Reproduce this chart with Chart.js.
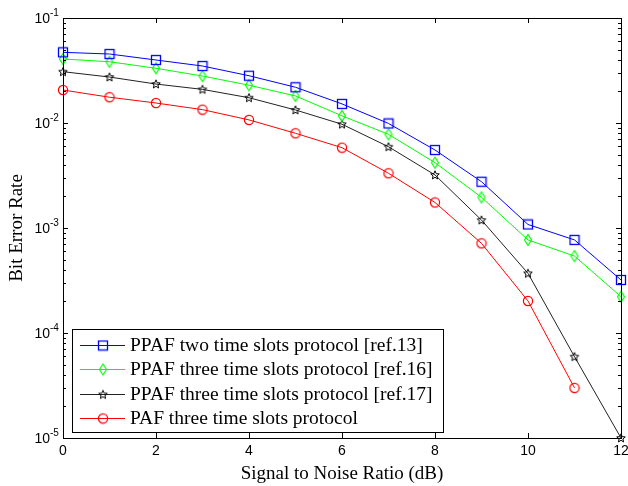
<!DOCTYPE html>
<html><head><meta charset="utf-8">
<script src="https://cdn.jsdelivr.net/npm/chart.js@4.4.1/dist/chart.umd.min.js"></script>
<style>html,body{margin:0;padding:0;background:#fff}#wrap{width:628px;height:486px}</style>
</head><body><div id="wrap"><canvas id="c" width="628" height="486"></canvas></div>
<script>
const snr = [0,1,2,3,4,5,6,7,8,9,10,11,12];
const berPPAF2ref13 = [0.0471,0.0454,0.0398,0.0349,0.0282,0.0219,0.0152,0.0099,0.00553,0.00276,0.00108,0.00077,0.00032];
const berPPAF3ref16 = [0.0407,0.0383,0.0332,0.0280,0.0229,0.0181,0.0117,0.0078,0.00419,0.00196,0.00077,0.00054,0.000222];
const berPPAF3ref17 = [0.0308,0.0274,0.0235,0.0209,0.0174,0.0133,0.00973,0.00594,0.0032,0.00119,0.00037,0.0000595,0.00001];
const berPAF3 = [0.0206,0.0176,0.0155,0.0134,0.0107,0.00798,0.00582,0.00332,0.00175,0.000714,0.000202,0.000030];
const seriesLabels = ['PPAF two time slots protocol [ref.13]','PPAF three time slots protocol [ref.16]','PPAF three time slots protocol [ref.17]','PAF three time slots protocol'];
const xTicks = [0,2,4,6,8,10,12];
const yExponents = [-1,-2,-3,-4,-5];
const xTitle = 'Signal to Noise Ratio (dB)';
const yTitle = 'Bit Error Rate';

function mk(w,h,draw){const c=document.createElement('canvas');c.width=w;c.height=h;const g=c.getContext('2d');draw(g);return c;}
const sq = mk(12,12,g=>{g.strokeStyle='#0000ff';g.lineWidth=1.3;g.strokeRect(1.5,1.5,9,9);});
const dia = mk(10,14,g=>{g.strokeStyle='#00ff00';g.lineWidth=1.2;g.beginPath();g.moveTo(5,1.5);g.lineTo(8.5,7);g.lineTo(5,12.5);g.lineTo(1.5,7);g.closePath();g.stroke();});
const star = mk(12,12,g=>{g.strokeStyle='#000';g.lineWidth=1;g.beginPath();for(let i=0;i<10;i++){const r=i%2?2.0:4.5;const a=-Math.PI/2+i*Math.PI/5;const x=6+r*Math.cos(a),y=6.3+r*Math.sin(a);i?g.lineTo(x,y):g.moveTo(x,y);}g.closePath();g.stroke();});
const circ = mk(12,12,g=>{g.strokeStyle='#ff0000';g.lineWidth=1.2;g.beginPath();g.arc(6,6,4.6,0,Math.PI*2);g.stroke();});

function pts(ys){return ys.map((v,i)=>({x:snr[i],y:v}));}
const colors=['#0000ff','#00ff00','#222222','#ff0000'];
const styles=[sq,dia,star,circ];
const all=[berPPAF2ref13,berPPAF3ref16,berPPAF3ref17,berPAF3];
const datasets = all.map((d,i)=>({label:seriesLabels[i],data:pts(d),borderColor:colors[i],borderWidth:1,pointStyle:styles[i],pointRadius:6,backgroundColor:colors[i],clip:false,tension:0}));

const deco = {
  id:'deco',
  afterDraw(chart){
    const g=chart.ctx, a=chart.chartArea, xs=chart.scales.x, ys=chart.scales.y;
    g.save();
    g.strokeStyle='#000';g.lineWidth=1;
    g.strokeRect(a.left+0.5,a.top+0.5,a.right-a.left,a.bottom-a.top);
    g.beginPath();
    xTicks.forEach(t=>{const x=Math.round(xs.getPixelForValue(t))+0.5;g.moveTo(x,a.bottom);g.lineTo(x,a.bottom-5);g.moveTo(x,a.top);g.lineTo(x,a.top+5);});
    yExponents.forEach(e=>{
      const y=Math.round(ys.getPixelForValue(Math.pow(10,e)))+0.5;
      g.moveTo(a.left,y);g.lineTo(a.left+5,y);g.moveTo(a.right,y);g.lineTo(a.right-5,y);
      if(e>-5){for(let m=2;m<=9;m++){const yy=Math.round(ys.getPixelForValue(m*Math.pow(10,e-1)))+0.5;g.moveTo(a.left,yy);g.lineTo(a.left+3,yy);g.moveTo(a.right,yy);g.lineTo(a.right-3,yy);}}
    });
    g.stroke();
    // tick labels
    g.fillStyle='#000';
    g.font='14px "Liberation Sans", Arial, sans-serif';
    g.textAlign='center';g.textBaseline='top';
    xTicks.forEach(t=>{g.fillText(String(t),xs.getPixelForValue(t),444);});
    yExponents.forEach(e=>{
      const y=ys.getPixelForValue(Math.pow(10,e));
      g.font='14px "Liberation Sans", Arial, sans-serif';
      g.textAlign='right';g.textBaseline='middle';
      g.fillText('10',50,y+1);
      g.font='10px "Liberation Sans", Arial, sans-serif';
      g.textAlign='left';
      g.fillText(String(e),50,y-5);
    });
    // titles
    g.font='19px "Liberation Serif", "Times New Roman", serif';
    g.textAlign='center';g.textBaseline='alphabetic';
    g.fillText(xTitle,(a.left+a.right)/2,479);
    g.save();g.translate(22,(a.top+a.bottom)/2);g.rotate(-Math.PI/2);g.fillText(yTitle,0,0);g.restore();
    // legend
    const lx=72,ly=329,lw=371,lh=103;
    g.fillStyle='#fff';g.fillRect(lx,ly,lw,lh);
    g.strokeStyle='#000';g.strokeRect(lx+0.5,ly+0.5,lw,lh);
    g.font='19.5px "Liberation Serif", "Times New Roman", serif';
    g.textAlign='left';g.textBaseline='middle';
    chart.data.datasets.forEach((ds,i)=>{
      const y=345+i*24.3;
      g.strokeStyle=ds.borderColor;g.lineWidth=1;
      g.beginPath();g.moveTo(80,Math.round(y)+0.5);g.lineTo(125,Math.round(y)+0.5);g.stroke();
      const im=ds.pointStyle;g.drawImage(im,103-im.width/2,Math.round(y)+0.5-im.height/2);
      g.fillStyle='#000';g.fillText(ds.label,130,y+1);
    });
    g.restore();
  }
};

new Chart(document.getElementById('c'),{
  type:'line',
  data:{datasets},
  options:{
    responsive:false,animation:false,
    layout:{padding:{left:63,right:6,top:18,bottom:48}},
    plugins:{legend:{display:false},tooltip:{enabled:false}},
    scales:{
      x:{type:'linear',min:0,max:12,display:false},
      y:{type:'logarithmic',min:1e-5,max:1e-1,display:false}
    }
  },
  plugins:[deco]
});
</script></body></html>
